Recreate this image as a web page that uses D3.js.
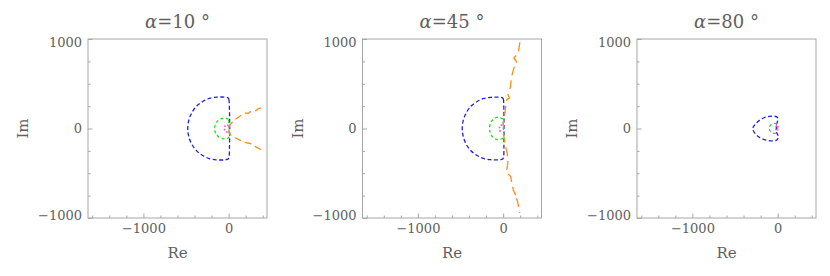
<!DOCTYPE html>
<html>
<head>
<meta charset="utf-8">
<script src="https://cdn.jsdelivr.net/npm/d3@7"></script>
<style>
  body { margin: 0; background: #fff; }
  svg { font-family: 'DejaVu Serif', serif; }
</style>
</head>
<body>
<svg id="chart"></svg>
<script>
// angle of each panel (degrees)
const alphas = [10, 45, 80];

// axis ticks
const xTicks = [-1000, 0];
const yTicks = [-1000, 0, 1000];
const xMinor = [-1600, -1400, -1200, -800, -600, -400, -200, 200, 400];
const yMinor = [-750, -500, -250, 250, 500, 750];

// alpha = 10 : [Re, Im]
const blue10 = [[5,315],[-5,340],[-40,350],[-90,352],[-140,350],[-220,338],[-300,305],[-375,250],[-432,176],[-467,92],[-480,0],
  [-467,-92],[-432,-176],[-375,-250],[-300,-305],[-220,-338],[-140,-350],[-90,-352],[-40,-350],[-5,-340],[5,-315],[10,-200],[12,0],[10,200],[5,315]];
const green10 = [[0,103],[-30,113],[-60,115],[-89,108],[-116,94],[-138,74],[-154,49],[-163,20],[-165,0],
  [-163,-20],[-154,-49],[-138,-74],[-116,-94],[-89,-108],[-60,-115],[-30,-113],[0,-103],[3,0],[0,103]];
const magenta10 = [[0,30],[-15,38],[-35,35],[-48,15],[-50,0],[-48,-15],[-35,-35],[-15,-38],[0,-30]];
const orangeUp10 = [[0,10],[15,42],[82,106],[141,143],[200,173],[230,170],[250,184],[290,202],[320,200],[344,218],[407,240]];
const orangeDn10 = [[0,-10],[15,-69],[82,-106],[121,-125],[161,-144],[219,-162],[250,-165],[278,-181],[329,-211],[384,-237]];

// alpha = 45
const blue45 = [[5,318],[-5,340],[-40,349],[-95,350],[-150,348],[-225,336],[-305,302],[-378,248],[-434,174],[-468,90],[-480,0],
  [-468,-90],[-434,-174],[-378,-248],[-305,-302],[-225,-336],[-150,-348],[-95,-350],[-40,-349],[-5,-340],[5,-318],[9,-200],[10,0],[9,200],[5,318]];
const green45 = [[0,108],[-30,120],[-62,126],[-92,118],[-118,100],[-138,76],[-152,48],[-158,18],[-158,0],
  [-158,-18],[-152,-48],[-138,-76],[-118,-100],[-92,-116],[-62,-124],[-30,-118],[0,-106],[3,0],[0,108]];
const magenta45 = [[-10,40],[-30,35],[-42,15],[-45,0],[-40,-20],[-28,-35],[-10,-38]];
const orange45 = [[196,962],[177,843],[126,788],[165,732],[126,676],[95,564],[87,464],[55,378],[75,341],[43,322],[28,229],[16,135],
  [0,60],[5,0],[0,-50],[16,-125],[28,-200],[48,-274],[55,-385],[43,-460],[70,-490],[60,-510],[87,-535],[99,-591],[118,-684],
  [145,-740],[125,-760],[160,-790],[173,-833],[196,-944]];

// alpha = 80
const blue80 = [[-15,45],[0,85],[2,115],[-15,132],[-50,138],[-100,135],[-160,120],[-215,90],[-260,50],[-290,10],[-292,-10],
  [-265,-55],[-220,-95],[-165,-122],[-105,-136],[-50,-138],[-12,-130],[5,-110],[8,-85],[-10,-50],[-15,-10],[-15,45]];
const green80 = [[-10,55],[-40,58],[-70,48],[-92,25],[-98,0],[-90,-25],[-65,-48],[-35,-55],[-10,-50]];
const magenta80 = [[0,25],[-12,22],[-20,5],[-18,-12],[-8,-22],[3,-20]];
const orange80 = [[8,28],[2,10],[0,-10],[6,-28]];

const series = [
  { blue: blue10, green: green10, magenta: magenta10, orange: [orangeUp10, orangeDn10], oDash: '7,4' },
  { blue: blue45, green: green45, magenta: magenta45, orange: [orange45], oDash: '9,5' },
  { blue: blue80, green: green80, magenta: magenta80, orange: [orange80], oDash: '5,3' }
];

class ComplexPlot {

  constructor(_config) {
    this.config = {
      parentElement: _config.parentElement,
      left: _config.left,
      top: _config.top || 39,
      size: _config.size || 179,
      alpha: _config.alpha,
      data: _config.data
    }
    this.initVis();
  }

  initVis() {
    let vis = this;
    let s = vis.config.size;

    vis.g = vis.config.parentElement.append('g')
        .attr('transform', `translate(${vis.config.left},${vis.config.top})`);

    vis.x = d3.scaleLinear().domain([-1650, 450]).range([0, s]);
    vis.y = d3.scaleLinear().domain([-1000, 1000]).range([s, 0]);

    vis.render();
  }

  render() {
    let vis = this;
    let s = vis.config.size;
    let grey = '#a6a6a6';
    let textCol = '#5f5f5f';
    let fmt = d3.format('d');

    // minor ticks
    vis.g.append('g')
        .attr('transform', `translate(0,${s})`)
        .call(d3.axisBottom(vis.x).tickValues(xMinor).tickSize(-2.5).tickFormat(''));
    vis.g.append('g')
        .call(d3.axisLeft(vis.y).tickValues(yMinor).tickSize(-2.5).tickFormat(''));

    // major ticks
    let xAxis = vis.g.append('g')
        .attr('transform', `translate(0,${s})`)
        .call(d3.axisBottom(vis.x).tickValues(xTicks).tickFormat(fmt).tickSize(-4.5).tickPadding(6));
    let yAxis = vis.g.append('g')
        .call(d3.axisLeft(vis.y).tickValues(yTicks).tickFormat(fmt).tickSize(-4.5).tickPadding(6));

    vis.g.selectAll('.domain').remove();
    vis.g.selectAll('.tick line').attr('stroke', grey);
    vis.g.selectAll('.tick text')
        .attr('fill', textCol)
        .attr('font-family', 'DejaVu Serif')
        .attr('font-size', 13);
    yAxis.selectAll('.tick text')
        .attr('dy', d => d === 1000 ? '0.55em' : d === -1000 ? '0.08em' : '0.32em');

    vis.g.append('rect')
        .attr('width', s).attr('height', s)
        .attr('fill', 'none')
        .attr('stroke', grey);

    // clip for the curves
    let clipId = 'clip' + vis.config.alpha;
    vis.g.append('clipPath').attr('id', clipId)
      .append('rect').attr('width', s).attr('height', s);

    let plot = vis.g.append('g').attr('clip-path', `url(#${clipId})`);

    let smooth = d3.line().x(d => vis.x(d[0])).y(d => vis.y(d[1])).curve(d3.curveCatmullRom);
    let jagged = d3.line().x(d => vis.x(d[0])).y(d => vis.y(d[1]));
    let data = vis.config.data;

    plot.append('path')
        .attr('d', smooth(data.blue))
        .attr('fill', 'none').attr('stroke', '#1e1ee6')
        .attr('stroke-width', 1.3).attr('stroke-dasharray', '4,2.5');

    plot.append('path')
        .attr('d', smooth(data.green))
        .attr('fill', 'none').attr('stroke', '#22dd22')
        .attr('stroke-width', 1.3).attr('stroke-dasharray', '3,2.5');

    plot.selectAll('.orange')
        .data(data.orange)
      .join('path')
        .attr('class', 'orange')
        .attr('d', jagged)
        .attr('fill', 'none').attr('stroke', '#ff8c1a')
        .attr('stroke-width', 1.3).attr('stroke-dasharray', data.oDash);

    plot.append('path')
        .attr('d', smooth(data.magenta))
        .attr('fill', 'none').attr('stroke', '#ff40ff')
        .attr('stroke-width', 1.6).attr('stroke-dasharray', '1.5,2');

    // title
    let title = vis.g.append('text')
        .attr('x', s / 2).attr('y', -11)
        .attr('text-anchor', 'middle')
        .attr('fill', textCol)
        .attr('font-size', 18);
    title.append('tspan').attr('font-style', 'italic').text('α');
    title.append('tspan').text(`=${vis.config.alpha} °`);

    // axis labels
    vis.g.append('text')
        .attr('x', s / 2).attr('y', s + 40)
        .attr('text-anchor', 'middle')
        .attr('fill', textCol).attr('font-size', 15)
        .text('Re');
    vis.g.append('text')
        .attr('transform', `translate(-60,${s / 2}) rotate(-90)`)
        .attr('text-anchor', 'middle')
        .attr('fill', textCol).attr('font-size', 15)
        .text('Im');
  }
}

const svg = d3.select('#chart')
    .attr('width', 830)
    .attr('height', 276);

alphas.forEach((a, i) => {
  new ComplexPlot({ parentElement: svg, left: 88 + i * 274.5, alpha: a, data: series[i] });
});
</script>
</body>
</html>
